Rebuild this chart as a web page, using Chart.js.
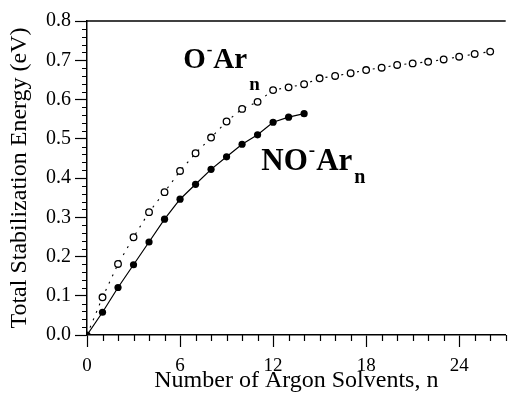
<!DOCTYPE html>
<html>
<head>
<meta charset="utf-8">
<script src="https://cdn.jsdelivr.net/npm/chart.js@4/dist/chart.umd.min.js"></script>
<style>
  html, body { margin: 0; padding: 0; background: #fff; overflow: hidden; }
  #wrap { width: 509px; height: 395px; overflow: hidden; }
</style>
</head>
<body>
<div id="wrap"><canvas id="c" width="511" height="395"></canvas></div>
<script>
// Cluster size n (number of argon atoms)
const nNO = [0, 1, 2, 3, 4, 5, 6, 7, 8, 9, 10, 11, 12, 13, 14];
const nO  = [0, 1, 2, 3, 4, 5, 6, 7, 8, 9, 10, 11, 12, 13, 14, 15, 16, 17, 18, 19, 20, 21, 22, 23, 24, 25, 26];

// Total stabilization energies (eV)
const energyNO = [0.000, 0.058, 0.121, 0.179, 0.237, 0.295, 0.346, 0.384, 0.422, 0.454,
                  0.486, 0.510, 0.542, 0.555, 0.564];
const energyO  = [0.000, 0.096, 0.181, 0.249, 0.313, 0.364, 0.418, 0.463, 0.503, 0.544,
                  0.576, 0.594, 0.624, 0.631, 0.639, 0.654, 0.660, 0.667, 0.675, 0.681,
                  0.688, 0.692, 0.696, 0.702, 0.709, 0.716, 0.722];

// Axis ranges and tick spacing
const xRange = [0, 27];
const yRange = [0, 0.8];
const xMajorStep = 6;
const yMajorStep = 0.1;
const xMinorStep = 1;
const yMinorStep = 0.02;

const SERIF = '"Liberation Serif", "Times New Roman", serif';

const toPoints = (xs, ys) => xs.map((x, i) => ({ x: x, y: ys[i] }));

// Minor ticks, the top frame line and the series labels
const decorations = {
  id: 'decorations',
  afterDraw(chart) {
    const ctx = chart.ctx;
    const xs = chart.scales.x, ys = chart.scales.y;
    const area = chart.chartArea;
    ctx.save();
    ctx.strokeStyle = '#000';
    ctx.lineWidth = 1.2;

    ctx.beginPath();
    // minor ticks on x axis
    for (let v = xRange[0]; v <= xRange[1] + 1e-9; v += xMinorStep) {
      if (Math.abs(v / xMajorStep - Math.round(v / xMajorStep)) < 1e-6) continue;
      const px = Math.round(xs.getPixelForValue(v)) + 0.5;
      ctx.moveTo(px, area.bottom);
      ctx.lineTo(px, area.bottom + 6);
    }
    // minor ticks on y axis
    for (let k = 0; k * yMinorStep <= yRange[1] + 1e-9; k++) {
      if (k % 5 === 0) continue;
      const py = Math.round(ys.getPixelForValue(k * yMinorStep)) + 0.5;
      ctx.moveTo(area.left, py);
      ctx.lineTo(area.left - 5, py);
    }
    ctx.stroke();

    // top frame line
    ctx.lineWidth = 1.5;
    ctx.beginPath();
    ctx.moveTo(area.left, area.top);
    ctx.lineTo(area.right, area.top);
    ctx.stroke();

    // series labels: X⁻Ar_n
    function label(prefix, xVal, yVal, size, subDrop) {
      let x = xs.getPixelForValue(xVal);
      const y = ys.getPixelForValue(yVal);
      ctx.fillStyle = '#000';
      ctx.textBaseline = 'alphabetic';
      ctx.textAlign = 'left';
      ctx.font = 'bold ' + size + 'px ' + SERIF;
      ctx.fillText(prefix, x, y);
      x += ctx.measureText(prefix).width;
      ctx.font = 'bold ' + Math.round(size * 0.6) + 'px ' + SERIF;
      ctx.fillText('-', x + 1, y - size * 0.45);
      x += ctx.measureText('-').width + 2;
      ctx.font = 'bold ' + size + 'px ' + SERIF;
      ctx.fillText('Ar', x, y);
      x += ctx.measureText('Ar').width;
      ctx.font = 'bold ' + Math.round(size * 0.65) + 'px ' + SERIF;
      ctx.fillText('n', x + 2, y + subDrop);
    }
    label('O', 6.2, 0.680, 29, 22);
    label('NO', 11.24, 0.421, 31, 13);
    ctx.restore();
  }
};

// keep only the major tick values (drops the extra tick Chart.js adds at max)
const keepMajor = step => scale => {
  scale.ticks = scale.ticks.filter(t => Math.abs(t.value / step - Math.round(t.value / step)) < 1e-6);
};

new Chart(document.getElementById('c'), {
  type: 'scatter',
  data: {
    datasets: [
      {
        label: 'O-Ar_n',
        data: toPoints(nO, energyO),
        showLine: true,
        borderColor: '#000',
        borderWidth: 1.1,
        borderDash: [2, 6],
        pointRadius: nO.map(n => (n === 0 ? 0 : 3.3)),
        pointBorderWidth: 1.3,
        pointBorderColor: '#000',
        pointBackgroundColor: '#fff',
        order: 2
      },
      {
        label: 'NO-Ar_n',
        data: toPoints(nNO, energyNO),
        showLine: true,
        borderColor: '#000',
        borderWidth: 1.2,
        pointRadius: 3.6,
        pointBorderWidth: 0,
        pointBackgroundColor: '#000',
        order: 1
      }
    ]
  },
  options: {
    responsive: false,
    animation: false,
    devicePixelRatio: 1,
    layout: { padding: { top: 21, right: 0, bottom: 0, left: 0 } },
    plugins: { legend: { display: false }, tooltip: { enabled: false } },
    scales: {
      x: {
        type: 'linear',
        min: xRange[0],
        max: xRange[1],
        afterBuildTicks: keepMajor(xMajorStep),
        afterFit(scale) { scale.height = 60; },
        border: { display: true, color: '#000', width: 1.5 },
        grid: { drawOnChartArea: false, drawTicks: true, tickLength: 12, tickColor: '#000', tickWidth: 1.2, color: '#000' },
        ticks: {
          stepSize: xMajorStep,
          color: '#000',
          padding: 8,
          maxRotation: 0,
          font: { family: SERIF, size: 19 },
          callback: v => String(v)
        },
        title: {
          display: true,
          text: 'Number of Argon Solvents, n',
          color: '#000',
          font: { family: SERIF, size: 24 },
          padding: { top: 0, bottom: 0 }
        }
      },
      y: {
        type: 'linear',
        min: yRange[0],
        max: yRange[1],
        afterFit(scale) { scale.width = 87; },
        border: { display: true, color: '#000', width: 1.5 },
        grid: { drawOnChartArea: false, drawTicks: true, tickLength: 12, tickColor: '#000', tickWidth: 1.2, color: '#000' },
        ticks: {
          stepSize: yMajorStep,
          color: '#000',
          padding: 4,
          font: { family: SERIF, size: 20 },
          callback: v => v.toFixed(1)
        },
        title: {
          display: true,
          text: 'Total Stabilization Energy (eV)',
          color: '#000',
          font: { family: SERIF, size: 24 },
          padding: { top: 5, bottom: 0 }
        }
      }
    }
  },
  plugins: [decorations]
});
</script>
</body>
</html>
